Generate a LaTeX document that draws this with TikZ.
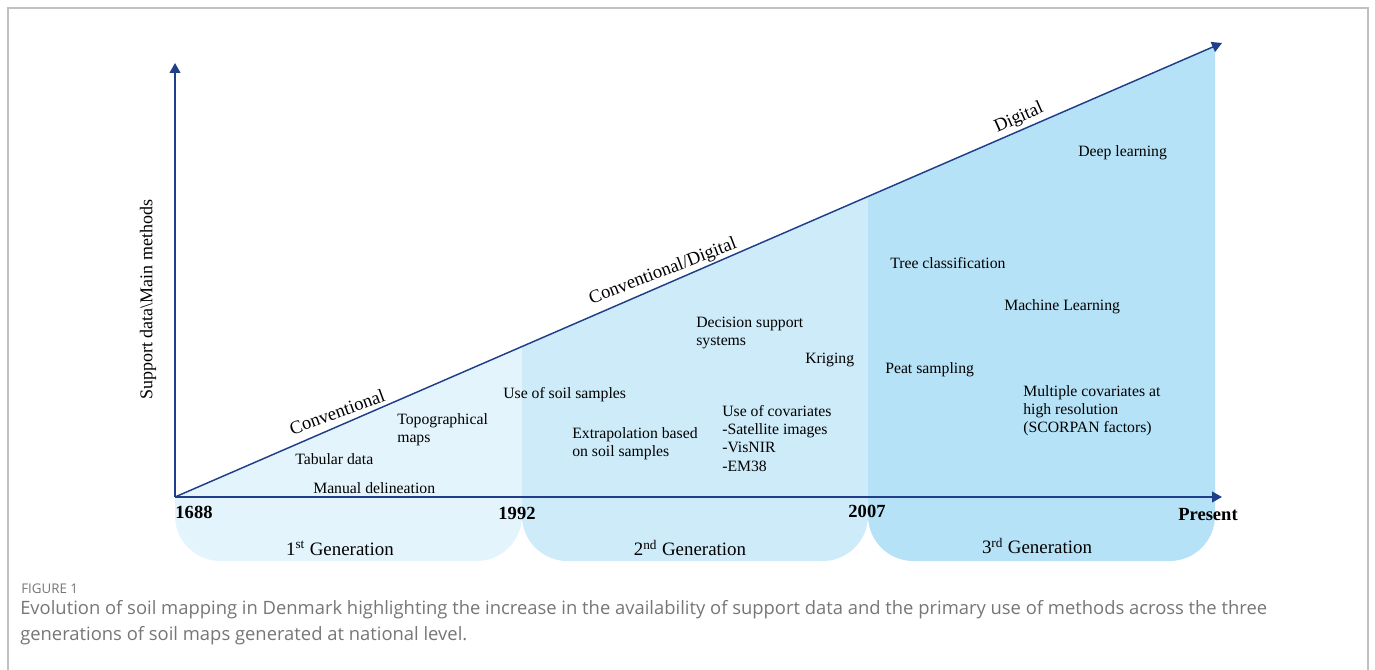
\documentclass[tikz,border=0pt]{standalone}
\usepackage{fontspec}
\setmainfont{Liberation Serif}
\newfontfamily\capfont{Open Sans}
\usetikzlibrary{arrows.meta}
\definecolor{axisblue}{RGB}{31,63,139}
\definecolor{genA}{RGB}{228,244,252}
\definecolor{genB}{RGB}{206,235,249}
\definecolor{genC}{RGB}{182,226,247}
\definecolor{capgray}{RGB}{118,118,118}
\definecolor{framegray}{RGB}{192,192,192}
\tikzset{
	item/.style={anchor=north west, inner sep=0pt, align=left, font=\fontsize{11.8}{13.7}\selectfont},
	year/.style={inner sep=0pt, font=\bfseries\fontsize{13.9}{16}\selectfont},
	gen/.style={inner sep=0pt, font=\fontsize{14.2}{17}\selectfont},
	phase/.style={inner sep=0pt, font=\fontsize{13.9}{16}\selectfont},
	axisline/.style={-{Triangle[length=7.5pt,width=8pt]}, line width=1.5pt, color=axisblue},
}
\begin{document}
\begin{tikzpicture}[x=0.75pt, y=-0.75pt]
		\useasboundingbox (0,0) rectangle (1375,670);
		\draw[framegray, line width=1.2pt] (8,690) -- (8,8) -- (1368,8) -- (1368,690);
		\coordinate (O) at (175,497);
		\coordinate (ytop) at (175,63);
		\coordinate (xend) at (1222,497);
		\coordinate (dend) at (1222,43);
		\fill[genA] (O) -- (522,346.6) -- (522,497) -- cycle;
		\fill[genB] (522,497) -- (522,346.6) -- (868,196.5) -- (868,497) -- cycle;
		\fill[genC] (868,497) -- (868,196.5) -- (1215,46.1) -- (1215,497) -- cycle;
		\fill[genA, rounded corners=34pt] (175,497) -- (175,561) -- (522,561) -- (522,497);
		\fill[genB, rounded corners=34pt] (522,497) -- (522,561) -- (868,561) -- (868,497);
		\fill[genC, rounded corners=34pt] (868,497) -- (868,561) -- (1215,561) -- (1215,497);
		\draw[axisline] (O) -- (ytop);
		\draw[axisline] (O) -- (xend);
		\draw[-{Triangle[length=7.5pt,width=8pt]}, line width=1.1pt, color=axisblue] (O) -- (dend);
		\node[phase, rotate=20] (conv) at (337,412) {Conventional};
		\node[phase, rotate=21] (convdig) at (663,272) {Conventional/Digital};
		\node[phase, rotate=24] (dig) at (1019,118) {Digital};
		\node[rotate=90, inner sep=0pt, font=\fontsize{13.5}{16}\selectfont] (ylab) at (148,300) {Support data\textbackslash Main methods};
		\node[item] (topo) at (397,413) {Topographical\\maps};
		\node[item] (tab) at (295,453) {Tabular data};
		\node[item] (manual) at (313,482) {Manual delineation};
		\node[item] (usesoil) at (503,387) {Use of soil samples};
		\node[item] (extra) at (572,427) {Extrapolation based\\on soil samples};
		\node[item] (decision) at (696,317) {Decision support\\systems};
		\node[item] (krig) at (805,353) {Kriging};
		\node[item] (covar) at (722,405) {Use of covariates\\-Satellite images\\-VisNIR\\-EM38};
		\node[item] (tree) at (890,257) {Tree classification};
		\node[item] (ml) at (1004,299) {Machine Learning};
		\node[item] (peat) at (885,362) {Peat sampling};
		\node[item] (multi) at (1023,385) {Multiple covariates at\\high resolution\\(SCORPAN factors)};
		\node[item] (deep) at (1078,145) {Deep learning};
		\node[year] (y1688) at (194,512) {1688};
		\node[year] (y1992) at (517,513.5) {1992};
		\node[year] (y2007) at (867,511.5) {2007};
		\node[year] (ypres) at (1208,515) {Present};
		\node[gen] (g1) at (340,548) {1\textsuperscript{st} Generation};
		\node[gen] (g2) at (690,548) {2\textsuperscript{nd} Generation};
		\node[gen] (g3) at (1037,546) {3\textsuperscript{rd} Generation};
		\node[anchor=base west, inner sep=0pt, text=capgray, font=\capfont\fontsize{10}{11}\selectfont] (figno) at (21,593) {FIGURE 1};
		\node[anchor=north west, inner sep=0pt, align=left, text=capgray, font=\capfont\fontsize{13.8}{19.5}\selectfont] (cap) at (20,600) {Evolution of soil mapping in Denmark highlighting the increase in the availability of support data and the primary use of methods across the three\\generations of soil maps generated at national level.};
\end{tikzpicture}
\end{document}
